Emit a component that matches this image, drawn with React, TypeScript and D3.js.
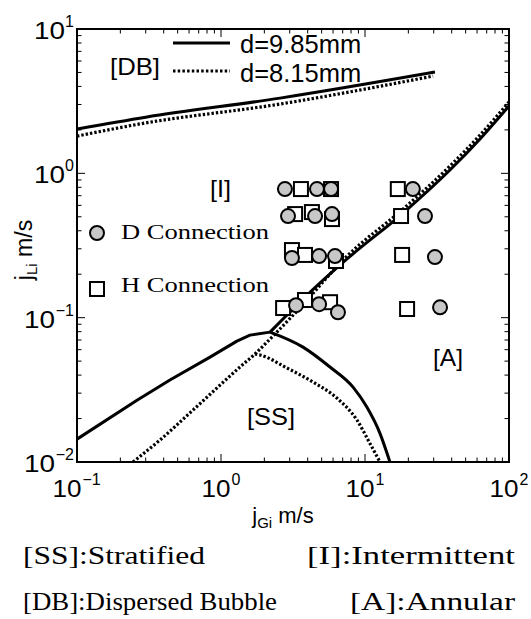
import React from 'react';
import * as d3 from 'd3';

type P = [number, number];

// Axis decades
const xTickExps = [-1, 0, 1, 2];
const yTickExps = [-2, -1, 0, 1];

// Boundary curves (jGi, jLi)
const dbSolid: P[] = [[0.1, 2.03], [0.3, 2.45], [2.57, 3.32], [30.6, 5.03]];
const dbDotted: P[] = [[0.1, 1.81], [0.274, 2.2], [2.57, 3.02], [29.7, 4.72]];
const ssLeftSolid: P[] = [[0.1, 0.0144], [0.261, 0.0268], [0.442, 0.037], [0.839, 0.0533], [1.29, 0.0688], [1.59, 0.0757], [2.19, 0.0794]];
const iaSolid: P[] = [[2.19, 0.0794], [2.78, 0.101], [3.71, 0.1345], [7.5, 0.255], [18.4, 0.531], [38.9, 1.054], [62.9, 1.73], [100, 2.93]];
const ssSolid: P[] = [[2.19, 0.0794], [3.71, 0.0625], [5.71, 0.0455], [8.26, 0.033], [10.3, 0.024], [12.7, 0.0158], [14.9, 0.01]];
const iaDotted: P[] = [[0.245, 0.01], [0.377, 0.0142], [0.639, 0.0229], [1.355, 0.0455], [1.72, 0.056], [2.19, 0.0711], [3.37, 0.111], [7.5, 0.267], [18.4, 0.566], [38.9, 1.124], [62.9, 1.84], [100, 3.12]];
const ssDotted: P[] = [[1.72, 0.056], [1.87, 0.0551], [2.87, 0.0448], [4.35, 0.0358], [6.39, 0.0277], [8.8, 0.0195], [10.8, 0.0135], [12.7, 0.01]];

// Experimental points
const hSquares: P[] = [
  [3.59, 0.778], [5.81, 0.778], [16.9, 0.778],
  [3.27, 0.522], [4.28, 0.539], [5.9, 0.482], [17.8, 0.506],
  [3.11, 0.294], [3.83, 0.272], [6.29, 0.247], [18.1, 0.272],
  [2.7, 0.1166], [3.83, 0.1325], [5.72, 0.128], [19.6, 0.1148],
];
const dCircles: P[] = [
  [2.78, 0.778], [4.64, 0.778], [5.81, 0.778], [21.5, 0.778],
  [2.92, 0.506], [4.5, 0.506], [5.9, 0.522], [26.1, 0.506],
  [3.11, 0.259], [4.8, 0.267], [6.19, 0.267], [30.6, 0.263],
  [3.32, 0.122], [4.8, 0.124], [6.49, 0.109], [33.2, 0.118],
];

const legendLabels = ['d=9.85mm', 'd=8.15mm'];
const connLabels = ['D Connection', 'H Connection'];
const regimeNotes = ['[SS]:Stratified', '[I]:Intermittent', '[DB]:Dispersed Bubble', '[A]:Annular'];

const SANS = '"Liberation Sans", Arial, Helvetica, sans-serif';
const SERIF = '"Liberation Serif", "DejaVu Serif", serif';

export default function App() {
  const L = 77, R = 509, T = 29, B = 462;
  const x = d3.scaleLog().domain([0.1, 100]).range([L, R]);
  const y = d3.scaleLog().domain([0.01, 10]).range([B, T]);
  const line = d3.line<P>().x(d => x(d[0])).y(d => y(d[1])).curve(d3.curveMonotoneX);
  const lineLin = d3.line<P>().x(d => x(d[0])).y(d => y(d[1]));

  const minorX: number[] = [];
  for (let e = -1; e < 2; e++) for (let k = 2; k <= 9; k++) minorX.push(k * Math.pow(10, e));
  const minorY: number[] = [];
  for (let e = -2; e < 1; e++) for (let k = 2; k <= 9; k++) minorY.push(k * Math.pow(10, e));

  const supText = (e: number) => (e < 0 ? '\u2212' + Math.abs(e) : String(e));
  const supW = (e: number) => (e < 0 ? 19 : 9);

  const solid = { fill: 'none', stroke: '#000', strokeWidth: 3 };
  const dotted = { fill: 'none', stroke: '#000', strokeWidth: 3.2, strokeDasharray: '2.4 2' };

  return (
    <svg width={531} height={619} style={{ position: 'absolute', left: 0, top: 0, background: '#fff' }}>
      <defs>
        <clipPath id="plotClip">
          <rect x={L} y={T} width={R - L} height={B - T} />
        </clipPath>
      </defs>
      <rect x={0} y={0} width={531} height={619} fill="#fff" />

      {/* curves */}
      <g clipPath="url(#plotClip)">
        <path d={line(dbSolid) || ''} {...solid} />
        <path d={line(dbDotted) || ''} {...dotted} />
        <path d={lineLin(ssLeftSolid) || ''} {...solid} strokeLinejoin="round" />
        <path d={line(iaSolid) || ''} {...solid} />
        <path d={line(ssSolid) || ''} {...solid} />
        <path d={line(iaDotted) || ''} {...dotted} />
        <path d={line(ssDotted) || ''} {...dotted} />
      </g>

      {/* markers */}
      <g>
        {hSquares.map((d, i) => (
          <rect key={'s' + i} x={x(d[0]) - 7} y={y(d[1]) - 7} width={14} height={14} fill="#fff" stroke="#000" strokeWidth={2} />
        ))}
        {dCircles.map((d, i) => (
          <circle key={'c' + i} cx={x(d[0])} cy={y(d[1])} r={7} fill="#c8c8c8" stroke="#000" strokeWidth={2} />
        ))}
      </g>

      {/* frame */}
      <rect x={L} y={T} width={R - L} height={B - T} fill="none" stroke="#000" strokeWidth={2} />

      {/* ticks */}
      <g stroke="#000" strokeWidth={1}>
        {xTickExps.map(e => {
          const px = x(Math.pow(10, e));
          return (
            <g key={'xt' + e}>
              <line x1={px} x2={px} y1={B} y2={B - 8} />
              <line x1={px} x2={px} y1={T} y2={T + 8} />
            </g>
          );
        })}
        {minorX.map((v, i) => {
          const px = x(v);
          return (
            <g key={'xm' + i}>
              <line x1={px} x2={px} y1={B} y2={B - 4.5} />
              <line x1={px} x2={px} y1={T} y2={T + 4.5} />
            </g>
          );
        })}
        {yTickExps.map(e => {
          const py = y(Math.pow(10, e));
          return (
            <g key={'yt' + e}>
              <line x1={L} x2={L + 8} y1={py} y2={py} />
              <line x1={R} x2={R - 8} y1={py} y2={py} />
            </g>
          );
        })}
        {minorY.map((v, i) => {
          const py = y(v);
          return (
            <g key={'ym' + i}>
              <line x1={L} x2={L + 4.5} y1={py} y2={py} />
              <line x1={R} x2={R - 4.5} y1={py} y2={py} />
            </g>
          );
        })}
      </g>

      {/* tick labels */}
      <g fontFamily={SANS} fill="#000">
        {yTickExps.map(e => {
          const py = y(Math.pow(10, e));
          const right = 74;
          return (
            <g key={'yl' + e}>
              <text x={right - supW(e)} y={py + 10} fontSize={24} textAnchor="end" textLength={31} lengthAdjust="spacingAndGlyphs">10</text>
              <text x={right} y={py - 2} fontSize={16} textAnchor="end">{supText(e)}</text>
            </g>
          );
        })}
        {xTickExps.map(e => {
          const px = x(Math.pow(10, e));
          const total = 30 + supW(e);
          const start = px - total / 2;
          return (
            <g key={'xl' + e}>
              <text x={start} y={497} fontSize={24} textLength={29} lengthAdjust="spacingAndGlyphs">10</text>
              <text x={start + 30} y={485} fontSize={16}>{supText(e)}</text>
            </g>
          );
        })}
      </g>

      {/* axis titles */}
      <text x={283} y={523} fontFamily={SANS} fontSize={22} textAnchor="middle">
        j<tspan fontSize={15} dy={5}>Gi</tspan><tspan dy={-5}> m/s</tspan>
      </text>
      <text transform="translate(32,250) rotate(-90)" fontFamily={SANS} fontSize={23} textAnchor="middle">
        j<tspan fontSize={15} dy={5}>Li</tspan><tspan dy={-5}> m/s</tspan>
      </text>

      {/* legend lines */}
      <line x1={173} x2={230} y1={43} y2={43} {...solid} />
      <line x1={173} x2={230} y1={71} y2={71} {...dotted} strokeDasharray="2.5 2.2" />
      <text x={240} y={53} fontFamily={SANS} fontSize={25.5}>{legendLabels[0]}</text>
      <text x={240} y={82} fontFamily={SANS} fontSize={25.5}>{legendLabels[1]}</text>

      {/* regime labels */}
      <g fontFamily={SANS} fontSize={24}>
        <text x={110} y={75} textLength={50} lengthAdjust="spacingAndGlyphs">[DB]</text>
        <text x={210} y={197} textLength={21} lengthAdjust="spacingAndGlyphs">[I]</text>
        <text x={433} y={366} textLength={30} lengthAdjust="spacingAndGlyphs">[A]</text>
        <text x={247} y={425} textLength={48} lengthAdjust="spacingAndGlyphs">[SS]</text>
      </g>

      {/* connection legend */}
      <circle cx={97} cy={233} r={7} fill="#c8c8c8" stroke="#000" strokeWidth={2} />
      <rect x={90} y={282} width={14} height={14} fill="#fff" stroke="#000" strokeWidth={2} />
      <text x={121} y={239} fontFamily={SERIF} fontSize={21} textLength={148} lengthAdjust="spacingAndGlyphs">{connLabels[0]}</text>
      <text x={121} y={292} fontFamily={SERIF} fontSize={21} textLength={148} lengthAdjust="spacingAndGlyphs">{connLabels[1]}</text>

      {/* notes below */}
      <g fontFamily={SERIF} fontSize={25.5}>
        <text x={23} y={564} textLength={182} lengthAdjust="spacingAndGlyphs">{regimeNotes[0]}</text>
        <text x={515} y={564} textAnchor="end" textLength={208} lengthAdjust="spacingAndGlyphs">{regimeNotes[1]}</text>
        <text x={23} y={610} textLength={254} lengthAdjust="spacingAndGlyphs">{regimeNotes[2]}</text>
        <text x={515} y={610} textAnchor="end" textLength={165} lengthAdjust="spacingAndGlyphs">{regimeNotes[3]}</text>
      </g>
    </svg>
  );
}
